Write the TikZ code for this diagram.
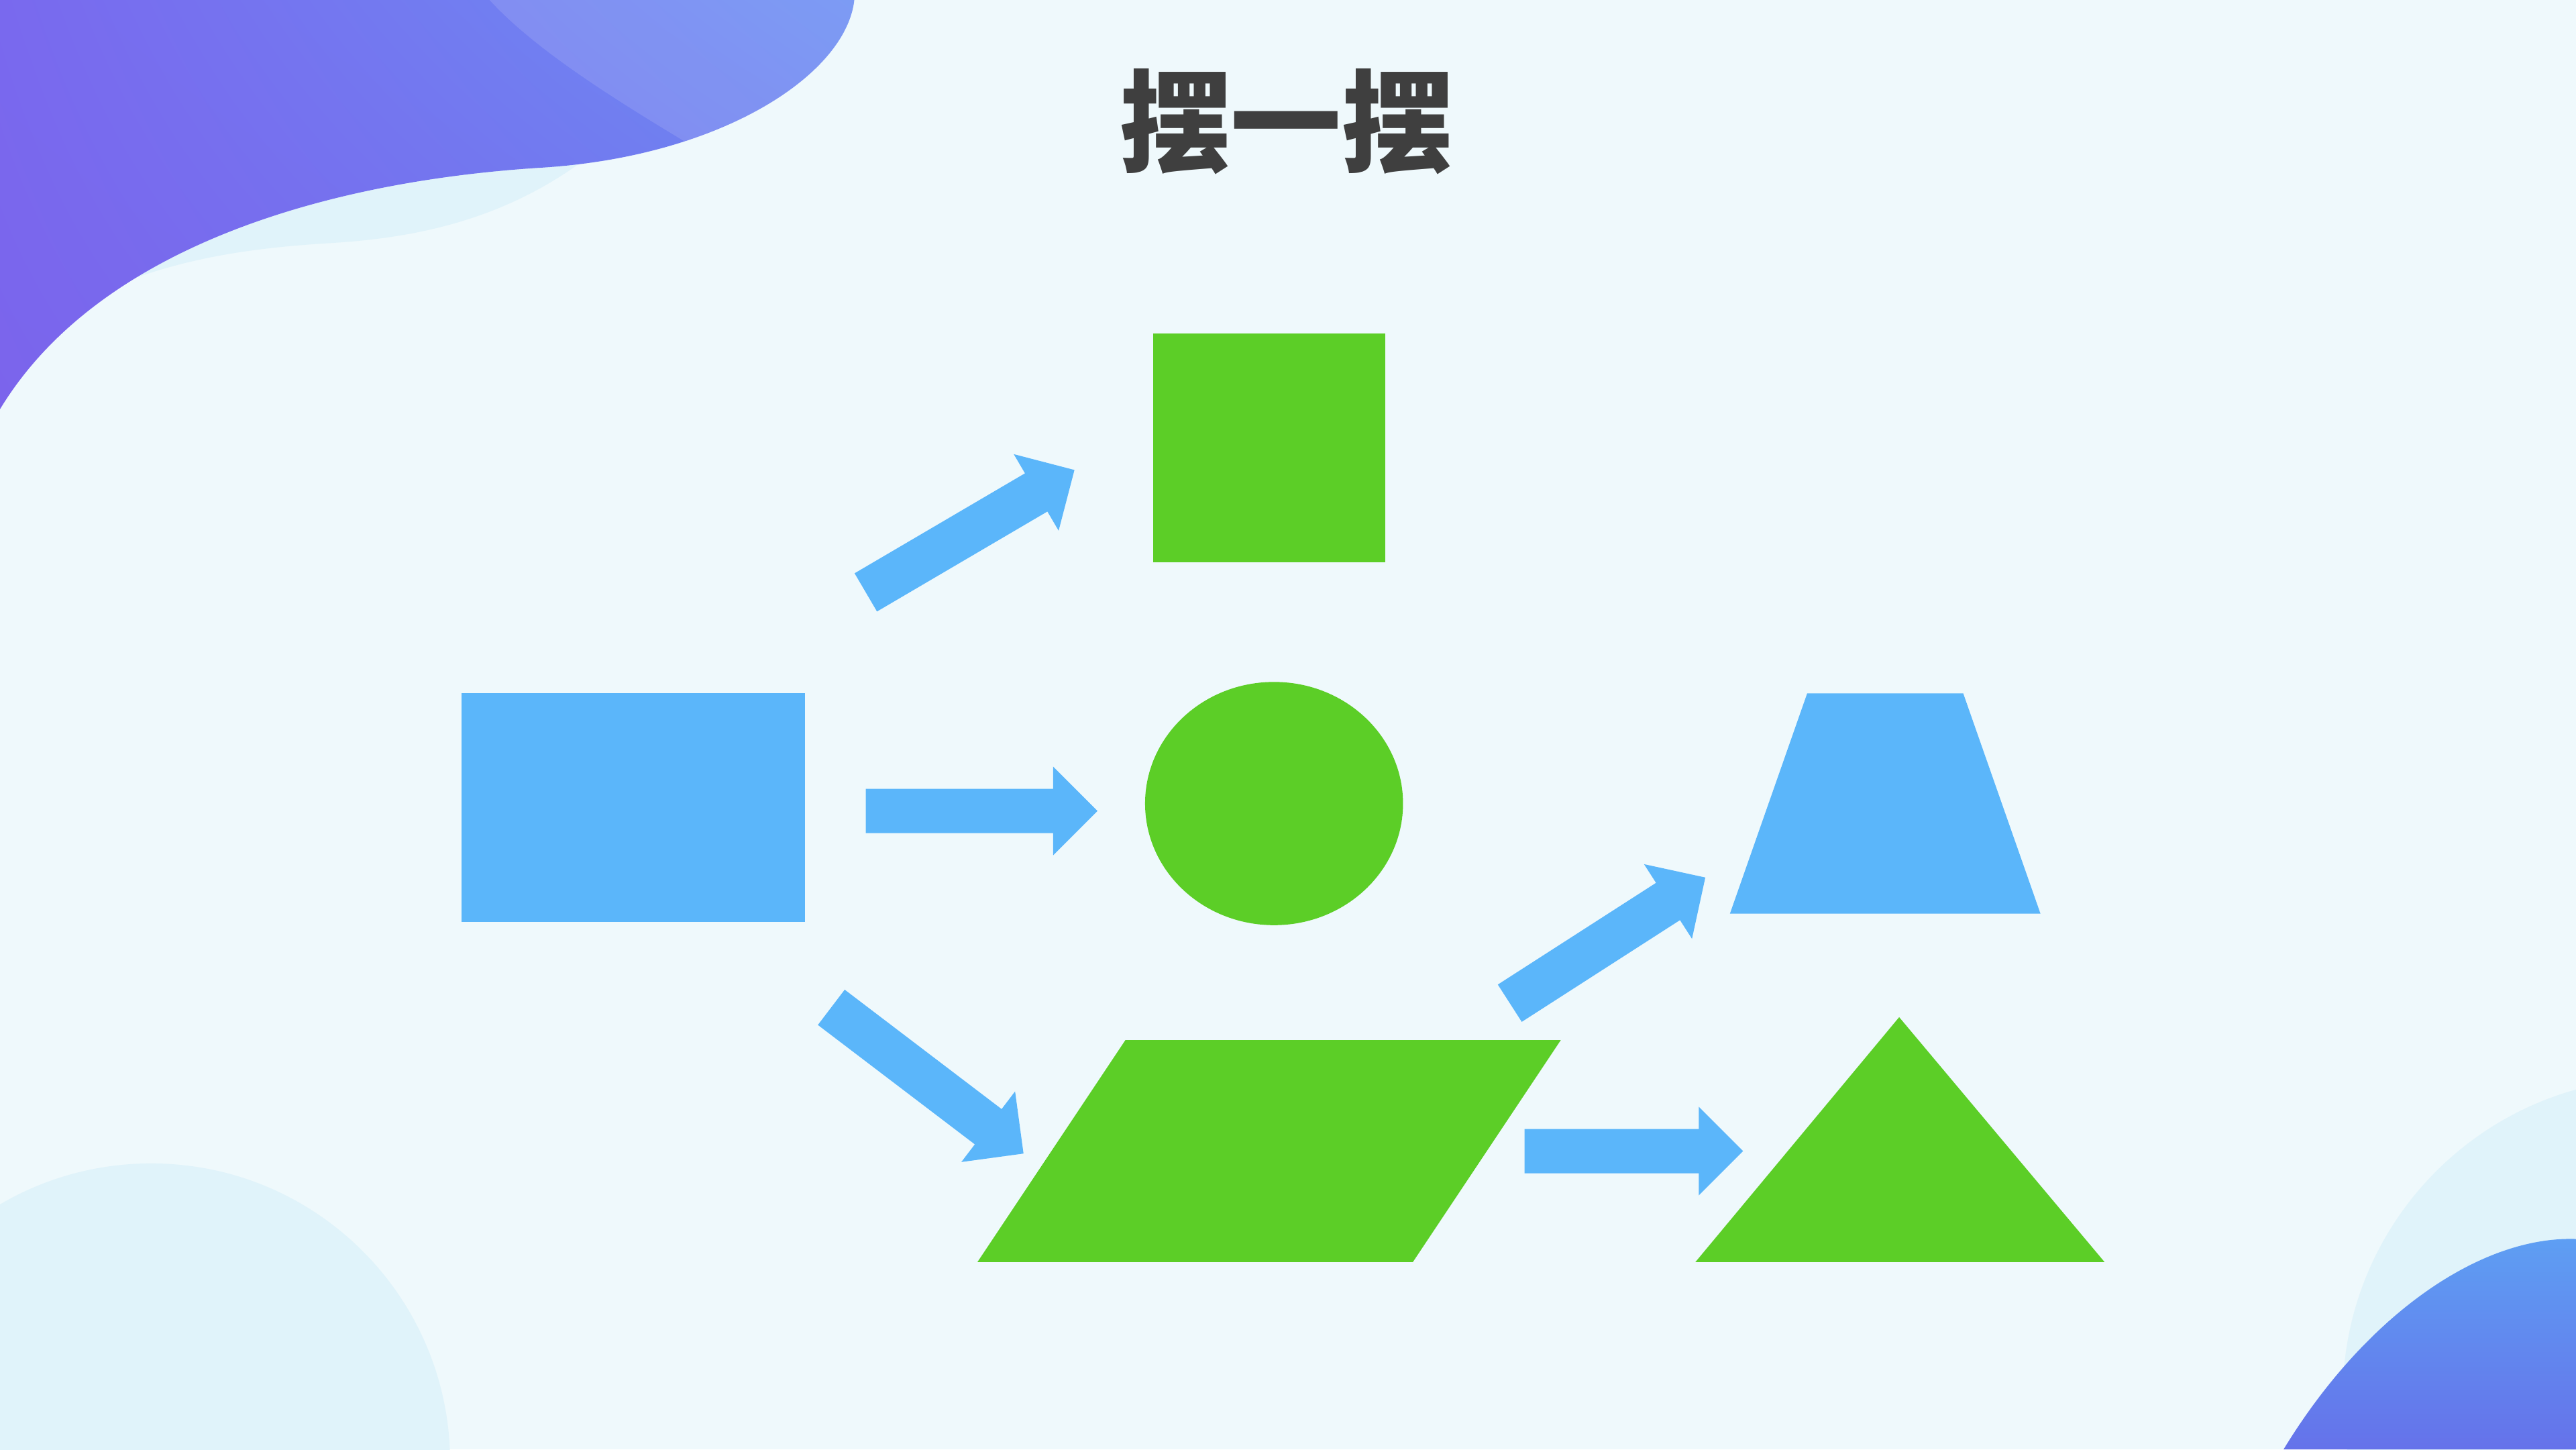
\documentclass[tikz,border=0pt]{standalone}
\usepackage{fontspec}
\newfontfamily\cjk{Noto Sans CJK SC}
\usetikzlibrary{calc,shapes.geometric,shadings}
\definecolor{bg}{HTML}{EFF9FC}
\definecolor{lightblob}{HTML}{E0F3FA}
\definecolor{shapeblue}{HTML}{5BB6FA}
\definecolor{shapegreen}{HTML}{5CCE27}
\definecolor{titlegray}{HTML}{3F3F3F}
\definecolor{purpA}{HTML}{7B64EC}
\definecolor{purpB}{HTML}{7969EE}
\definecolor{blueA}{HTML}{6B8FF3}
\definecolor{purpC}{HTML}{7274EE}
\definecolor{brTop}{HTML}{5E9FF3}
\definecolor{brBot}{HTML}{6572EA}
\tikzset{
  bluefill/.style={fill=shapeblue, draw=none},
  greenfill/.style={fill=shapegreen, draw=none},
  titletext/.style={text=titlegray, font=\cjk\bfseries\fontsize{47}{52}\selectfont, inner sep=0pt},
}
\newcommand\blockarr[2]{%
  \coordinate (hb) at ($(#2)!0.661cm!(#1)$);
  \fill[bluefill] ($(#1)!0.33cm!90:(#2)$) -- ($(hb)!0.33cm!90:(#2)$) -- ($(hb)!0.661cm!90:(#2)$) -- (#2)
    -- ($(hb)!0.661cm!-90:(#2)$) -- ($(hb)!0.33cm!-90:(#2)$) -- ($(#1)!0.33cm!-90:(#2)$) -- cycle;
}
\begin{document}
\begin{tikzpicture}[x=0.02449cm,y=-0.02449cm]
\useasboundingbox (0,0) rectangle (1568,882);
\fill[bg] (0,0) rectangle (1568,882);
\begin{scope}
\clip (0,0) rectangle (1568,882);
% light decorations
\fill[lightblob] (92,890) circle[radius=4.457cm];
\fill[lightblob] (1620,850) circle[radius=4.751cm];
\fill[lightblob] (365,90) .. controls (310,135) and (250,145) .. (200,148) .. controls (150,151) and (105,158) .. (60,178) -- (60,60) -- (365,60) -- cycle;
% top-left gradient blob
\begin{scope}
\clip (0,0) -- (520,0) .. controls (515,45) and (440,95) .. (330,102) .. controls (200,110) and (60,150) .. (0,249) -- cycle;
\shade[upper left=purpB, upper right=blueA, lower left=purpA, lower right=purpC] (0,0) rectangle (530,250);
\fill[white, opacity=0.12] (298,0) .. controls (330,35) and (390,70) .. (440,100) -- (600,100) -- (600,0) -- cycle;
\end{scope}
% bottom-right gradient blob
\shade[top color=brTop, bottom color=brBot] (1568,754) .. controls (1510,752) and (1440,800) .. (1390,882) -- (1568,882) -- cycle;
\end{scope}

% title
\node[titletext] (title) at (783,74) {摆一摆};

% shapes
\node[bluefill, rectangle, minimum width=5.118cm, minimum height=3.404cm, inner sep=0pt] (rect) at (385.5,491.5) {};
\node[greenfill, rectangle, minimum width=3.453cm, minimum height=3.404cm, inner sep=0pt] (square) at (772.5,272.5) {};
\node[greenfill, ellipse, minimum width=3.845cm, minimum height=3.625cm, inner sep=0pt] (ellipse) at (775.5,489) {};
\fill[greenfill] (685,633) -- (950,633) -- (860,768) -- (595,768) -- cycle;
\fill[bluefill] (1100,422) -- (1195,422) -- (1242,556) -- (1053,556) -- cycle;
\fill[greenfill] (1156,619) -- (1281,768) -- (1032,768) -- cycle;

% block arrows
\coordinate (a1s) at (527,360.5); \coordinate (a1e) at (654,286);
\coordinate (a2s) at (527,493.5); \coordinate (a2e) at (668,493.5);
\coordinate (a3s) at (506,613);   \coordinate (a3e) at (623,702);
\coordinate (a4s) at (919,610.5); \coordinate (a4e) at (1038,534);
\coordinate (a5s) at (928,700.5); \coordinate (a5e) at (1061,700.5);
\blockarr{a1s}{a1e}
\blockarr{a2s}{a2e}
\blockarr{a3s}{a3e}
\blockarr{a4s}{a4e}
\blockarr{a5s}{a5e}
\end{tikzpicture}
\end{document}
